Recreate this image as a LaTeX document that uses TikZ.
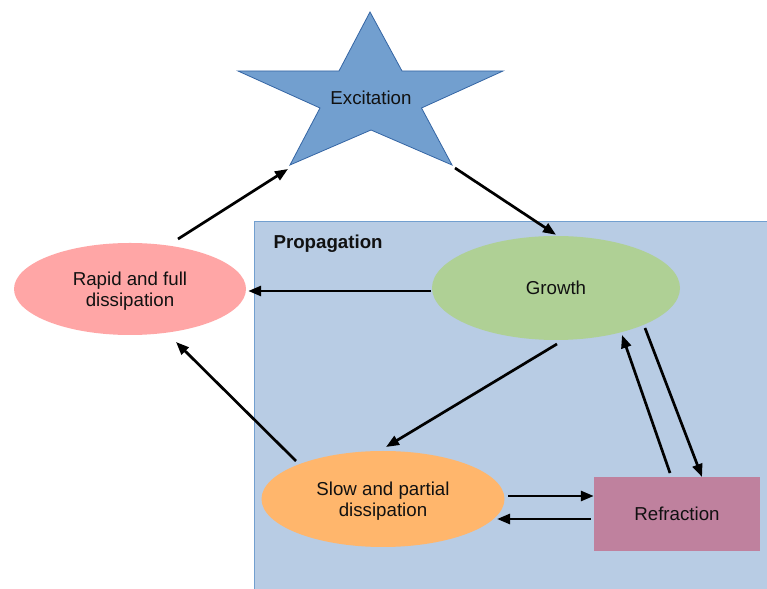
\documentclass[tikz,border=0pt]{standalone}
\usepackage{fontspec}
\setmainfont{Liberation Sans}
\usetikzlibrary{arrows.meta,shapes.geometric}
\definecolor{boxfill}{HTML}{B8CCE4}
\definecolor{boxline}{HTML}{729FCF}
\definecolor{starfill}{HTML}{729FCF}
\definecolor{starline}{HTML}{3465A4}
\definecolor{rapidfill}{HTML}{FFA6A6}
\definecolor{growfill}{HTML}{AFD095}
\definecolor{slowfill}{HTML}{FFB66C}
\definecolor{refrfill}{HTML}{BF819E}
\definecolor{txt}{HTML}{111111}
\begin{document}
\begin{tikzpicture}[x=1pt,y=1pt,
  lbl/.style={font=\fontsize{18.7}{21}\selectfont,text=txt,align=center},
  ell/.style={ellipse,draw=none,inner sep=0pt,lbl},
  arr/.style={line width=2.7pt,-{Triangle[length=13pt,width=10pt]}}]
\clip (0,0) rectangle (767,588);
\fill[white] (0,0) rectangle (767,588);
% propagation box
\draw[fill=boxfill,draw=boxline,line width=0.8pt] (254,-5) rectangle (780,367);
\node[anchor=west,font=\bfseries\fontsize{18.7}{21}\selectfont,text=txt] (prop) at (270,344) {Propagation};
% star
\draw[fill=starfill,draw=starline,line width=0.8pt]
  (370,576) -- (402,517) -- (503,517) -- (421.5,480) -- (452,423) -- (371,458)
  -- (290,423) -- (320,480) -- (238,517) -- (339,517) -- cycle;
\coordinate (sbl) at (290,423);
\coordinate (sbr) at (452,423);
\node[lbl] (exc) at (371,490) {Excitation};
% nodes
\node[ell,fill=rapidfill,minimum width=232pt,minimum height=92pt] (rapid) at (130,299) {};
\node[lbl] (rapidt) at (130,297) {Rapid and full\\dissipation};
\node[ell,fill=growfill,minimum width=248pt,minimum height=104pt] (grow) at (556,300) {Growth};
\node[ell,fill=slowfill,minimum width=243pt,minimum height=96pt] (slow) at (383,89) {};
\node[lbl] (slowt) at (383,87) {Slow and partial\\dissipation};
\node[rectangle,fill=refrfill,draw=none,minimum width=166pt,minimum height=74pt,inner sep=0pt,lbl] (refr) at (677,74) {Refraction};
% arrows
\draw[arr] ([shift={(48,50)}]rapid.center) -- ([shift={(-2,-4)}]sbl);
\draw[arr] ([shift={(3,-3)}]sbr) -- ([yshift=1]grow.north);
\draw[arr] ([shift={(-125,-3)}]grow.center) -- ([shift={(2,-2)}]rapid.east);
\draw[arr] ([shift={(1,-56)}]grow.center) -- ([shift={(3,52)}]slow.center);
\draw[arr] ([shift={(-87,38)}]slow.center) -- ([shift={(46,-53)}]rapid.center);
\draw[arr] ([shift={(125,3)}]slow.center) -- ([yshift=18]refr.west);
\draw[arr] ([shift={(-3,-5)}]refr.west) -- ([shift={(114,-20)}]slow.center);
\draw[arr] ([shift={(-7,41)}]refr.center) -- ([shift={(66,-47)}]grow.center);
\draw[arr] ([shift={(89,-40)}]grow.center) -- ([shift={(25,37)}]refr.center);
\end{tikzpicture}
\end{document}
